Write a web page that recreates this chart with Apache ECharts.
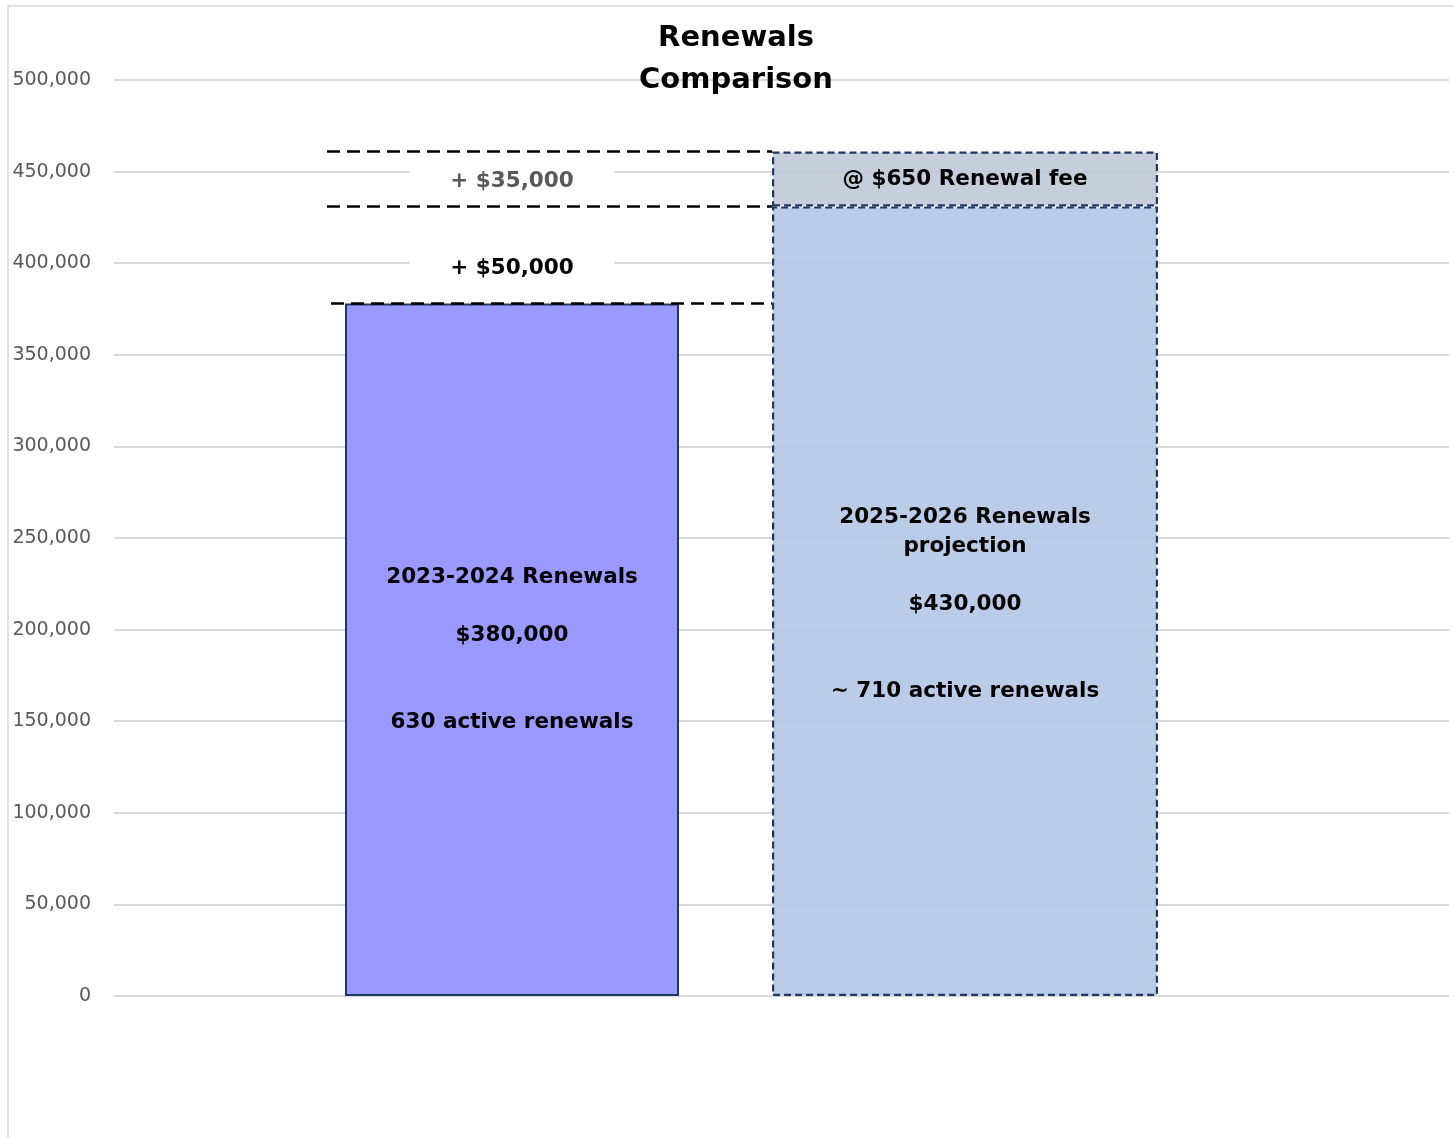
<!DOCTYPE html>
<html>
<head>
<meta charset="utf-8">
<title>Renewals Comparison</title>
<script src="https://cdn.jsdelivr.net/npm/echarts@6/dist/echarts.min.js"></script>
<style>
  html, body { margin: 0; padding: 0; background: #fff; }
  #chart { width: 1454px; height: 1138px; }
</style>
</head>
<body>
<div id="chart"></div>
<script>
// data
const categories = ['2023-2024', '2025-2026'];
const actualRenewals = [378000, '-'];
const projectedBase = ['-', 431000];
const feeIncrease = ['-', 30000];

const actualText = ['2023-2024 Renewals', '', '$380,000', '', '', '630 active renewals'];
const projectedText = ['2025-2026 Renewals', 'projection', '', '$430,000', '', '', '~ 710 active renewals'];
const feeText = '@ $650 Renewal fee';

const deltaLabels = ['+ $35,000', '+ $50,000'];
const deltaLabelValues = [444500, 397000];

const yMin = 0, yMax = 500000, yStep = 50000;

const FONT = 'DejaVu Sans';
const NAVY = '#1F3864';

const chart = echarts.init(document.getElementById('chart'));

const gridTop = 80, gridBottom = 142;

const option = {
  animation: false,
  textStyle: { fontFamily: FONT },
  title: {
    text: 'Renewals\nComparison',
    left: 731, top: 12, textAlign: 'center',
    textStyle: { fontFamily: FONT, fontSize: 29, fontWeight: 'bold', color: '#000', lineHeight: 42 }
  },
  graphic: [{
    type: 'rect', silent: true, z: -10,
    shape: { x: 8, y: 6, width: 1600, height: 1300 },
    style: { fill: 'none', stroke: '#d9d9d9', lineWidth: 1.5 }
  }],
  grid: [
    { left: 114, right: 5, top: gridTop, bottom: gridBottom },
    { left: 285.5, width: 906, top: gridTop, bottom: gridBottom }
  ],
  xAxis: [
    { gridIndex: 0, type: 'category', data: categories, show: false },
    { gridIndex: 1, type: 'category', data: categories, show: false },
    { gridIndex: 1, type: 'category', data: categories, show: false }
  ],
  yAxis: [
    {
      gridIndex: 0, type: 'value', min: yMin, max: yMax, interval: yStep,
      axisLine: { show: false }, axisTick: { show: false },
      axisLabel: {
        color: '#595959', fontSize: 19, fontFamily: FONT, margin: 23,
        formatter: v => v.toLocaleString('en-US')
      },
      splitLine: { lineStyle: { color: '#d9d9d9', width: 2 } }
    },
    { gridIndex: 1, type: 'value', min: yMin, max: yMax, interval: yStep, show: false, splitLine: { show: false } }
  ],
  series: [
    {
      id: 'actual',
      type: 'bar', xAxisIndex: 1, yAxisIndex: 1,
      data: actualRenewals, barWidth: 334,
      itemStyle: { color: '#9999FF', borderColor: NAVY, borderWidth: 2 },
      label: {
        show: true, position: 'inside', color: '#000',
        fontFamily: FONT, fontWeight: 'bold', fontSize: 21.5, lineHeight: 29,
        formatter: () => actualText.join('\n')
      },
      markPoint: {
        silent: true,
        symbol: 'rect', symbolSize: 1,
        itemStyle: { color: 'rgba(0,0,0,0)' },
        data: deltaLabels.map((t, i) => ({
          coord: [categories[0], deltaLabelValues[i]],
          label: {
            show: true, position: 'inside', formatter: t,
            color: i === 0 ? '#595959' : '#000',
            fontFamily: FONT, fontWeight: 'bold', fontSize: 21.5,
            backgroundColor: '#fff', width: 205, align: 'center', padding: [4, 0]
          }
        }))
      }
    },
    {
      id: 'base',
      type: 'bar', xAxisIndex: 2, yAxisIndex: 1, stack: 'proj',
      data: projectedBase, barWidth: 386,
      itemStyle: { color: 'rgba(180,199,231,0.9)', borderColor: NAVY, borderWidth: 2.2, borderType: [7, 4] },
      label: {
        show: true, position: 'inside', color: '#000', offset: [0, 3],
        fontFamily: FONT, fontWeight: 'bold', fontSize: 21.5, lineHeight: 29,
        formatter: () => projectedText.join('\n')
      }
    },
    {
      id: 'fee',
      type: 'bar', xAxisIndex: 2, yAxisIndex: 1, stack: 'proj',
      data: feeIncrease, barWidth: 386,
      itemStyle: { color: 'rgba(192,201,216,0.9)', borderColor: NAVY, borderWidth: 2.2, borderType: [7, 4] },
      label: {
        show: true, position: 'inside', color: '#000',
        fontFamily: FONT, fontWeight: 'bold', fontSize: 21.5,
        formatter: () => feeText
      }
    }
  ]
};

chart.setOption(option);

// dashed guide lines, placed from the library's own scales
const yPx = v => chart.convertToPixel({ yAxisIndex: 1 }, v);
const barLeft1 = chart.convertToPixel({ xAxisIndex: 1 }, categories[0]) - 334 / 2;
const barLeft2 = chart.convertToPixel({ xAxisIndex: 2 }, categories[1]) - 386 / 2;
const projTotal = projectedBase[1] + feeIncrease[1];
const guideLevels = [
  { v: projTotal, from: barLeft1 - 18 },
  { v: projectedBase[1], from: barLeft1 - 18 },
  { v: actualRenewals[0], from: barLeft1 - 14 }
];

chart.setOption({
  series: [{
    id: 'actual',
    markLine: {
      silent: true, symbol: ['none', 'none'], z: 10,
      label: { show: false },
      lineStyle: { color: '#000', width: 2.6, type: [13, 7] },
      data: guideLevels.map(g => [
        { x: g.from, y: yPx(g.v) },
        { x: barLeft2, y: yPx(g.v) }
      ])
    }
  }]
});
</script>
</body>
</html>
